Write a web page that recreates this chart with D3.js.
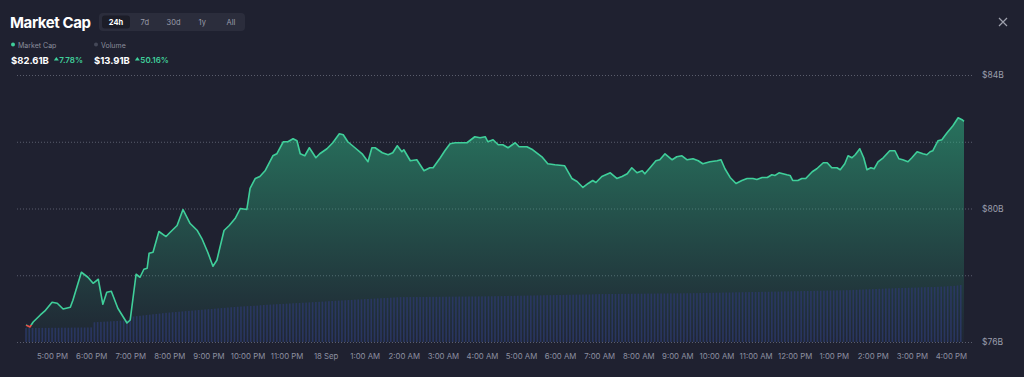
<!DOCTYPE html>
<html lang="en">
<head>
    <title>Market Cap</title>
    <meta charset="utf-8">
    <script src="https://d3js.org/d3.v7.min.js"></script>
    <style>
        body { margin: 0; background: #1f2130; }
        svg text { font-family: Inter, "Noto Sans", sans-serif; }
    </style>
</head>
<body>
<div id="chart"></div>
<script>
    // Market cap, 24h (times 16:20 on 17 Sep -> 16:20 on 18 Sep), in $B
    const times = ["16:20","16:26","16:31","16:42","16:49","17:00","17:08","17:17","17:28","17:32","17:45","17:55",
        "18:03","18:11","18:18","18:24","18:31","18:41","18:55","19:00","19:09","19:15","19:21","19:26","19:29","19:35",
        "19:44","19:55","20:01","20:12","20:21","20:32","20:43","20:50","20:59","21:07","21:13","21:24","21:32","21:41",
        "21:49","21:59","22:04","22:12","22:19","22:27","22:39","22:45","22:55","23:02","23:10","23:16","23:21","23:28",
        "23:35","23:45","23:51","00:02","00:11","00:21","00:27","00:34","00:45","00:56","01:05","01:11","01:16","01:27",
        "01:36","01:43","01:50","01:57","02:00","02:10","02:20","02:31","02:40","02:45","02:56","03:03","03:11","03:19",
        "03:37","03:49","03:57","04:05","04:09","04:17","04:25","04:32","04:40","04:51","04:57","05:09","05:18","05:32",
        "05:41","05:52","06:07","06:18","06:26","06:35","06:43","06:50","06:55","07:04","07:17","07:27","07:35","07:43",
        "07:50","07:58","08:06","08:10","08:18","08:27","08:33","08:41","08:52","08:59","09:07","09:15","09:24","09:32",
        "09:39","09:50","10:01","10:07","10:13","10:21","10:30","10:39","10:47","10:56","11:02","11:10","11:18","11:25",
        "11:30","11:36","11:48","11:53","11:57","12:05","12:11","12:17","12:27","12:34","12:44","12:50","12:57","13:05",
        "13:10","13:17","13:22","13:28","13:33","13:40","13:46","13:51","13:57","14:02","14:08","14:16","14:26","14:34",
        "14:40","14:46","14:54","15:00","15:08","15:17","15:23","15:28","15:32","15:40","15:46","15:54","16:03","16:11",
        "16:17","16:20"];
    const marketCap = [76.51,76.45,76.60,76.81,76.93,77.19,77.16,76.99,77.04,77.25,78.09,77.94,
        77.76,77.88,77.13,77.49,77.52,77.01,76.57,76.66,78.03,77.94,78.18,78.21,78.66,78.69,
        79.31,79.16,79.28,79.49,79.97,79.55,79.34,79.10,78.69,78.27,78.45,79.34,79.49,79.70,
        80.00,79.97,80.60,80.90,80.96,81.13,81.58,81.64,82.00,82.00,82.09,82.03,81.64,81.58,
        81.82,81.52,81.64,81.79,81.97,82.24,82.21,82.00,81.82,81.64,81.40,81.82,81.82,81.67,
        81.61,81.67,81.88,81.70,81.76,81.43,81.46,81.13,81.22,81.22,81.52,81.73,81.94,81.97,
        81.97,82.15,82.12,82.15,82.00,82.06,81.91,81.91,81.82,81.97,81.85,81.85,81.76,81.55,
        81.34,81.31,81.28,80.90,80.81,80.63,80.75,80.84,80.78,80.96,81.07,80.90,80.96,81.04,
        81.22,81.07,81.13,81.04,81.22,81.43,81.46,81.64,81.46,81.55,81.58,81.46,81.49,81.43,
        81.34,81.40,81.43,81.46,81.19,80.93,80.75,80.84,80.90,80.90,80.87,80.93,80.93,81.01,
        80.99,81.07,81.01,80.99,80.84,80.84,80.90,80.90,81.10,81.19,81.37,81.37,81.22,81.22,
        81.16,81.34,81.58,81.52,81.61,81.79,81.52,81.16,81.22,81.19,81.40,81.52,81.73,81.73,
        81.49,81.46,81.40,81.52,81.70,81.64,81.61,81.70,81.73,82.03,82.06,82.27,82.48,82.72,
        82.66,82.61];

    // Volume (24h), one bar every 5 minutes from 16:20, in $B
    const volume = [9.25,9.25,9.26,9.26,9.26,9.27,9.27,9.27,9.28,9.28,9.28,9.29,9.29,9.29,9.30,9.30,9.30,9.31,9.31,9.31,9.32,
        9.88,9.90,9.92,9.94,9.96,9.98,10.00,10.02,10.04,10.06,10.08,10.10,
        10.50,10.54,10.58,10.62,10.66,10.70,10.74,10.78,10.82,10.86,10.90,10.93,10.96,10.99,11.02,11.05,11.08,11.11,11.14,11.17,11.20,
        11.23,11.26,11.29,11.32,11.35,11.38,11.41,11.44,11.47,11.50,11.53,11.56,11.58,11.60,11.62,11.64,11.66,11.68,11.72,
        11.75,11.77,11.79,11.81,11.83,11.85,11.87,11.89,11.91,11.93,11.95,11.97,11.99,12.01,12.03,12.05,12.07,12.09,12.11,12.13,12.16,
        12.18,12.20,12.22,12.24,12.26,12.28,12.30,12.32,12.34,12.36,12.38,12.40,12.42,12.44,12.46,12.48,12.50,12.52,12.54,12.56,12.58,12.60,
        12.60,12.60,12.61,12.61,12.61,12.62,12.62,12.62,12.63,12.63,12.63,12.64,12.64,12.64,12.65,12.65,12.65,12.66,12.66,12.66,12.67,
        12.67,12.67,12.68,12.68,12.68,12.69,12.69,12.70,12.70,12.71,
        12.72,12.73,12.73,12.74,12.75,12.75,12.76,12.77,12.77,12.78,12.79,12.79,12.80,12.81,12.81,12.82,12.83,12.83,12.84,12.85,
        12.85,12.86,12.87,12.87,12.88,12.89,12.89,12.90,12.91,12.93,
        12.93,12.93,12.94,12.94,12.94,12.95,12.95,12.95,12.96,12.96,12.96,12.97,12.97,12.97,12.98,12.98,12.98,12.99,12.99,12.99,
        13.00,13.00,13.00,13.01,13.01,13.01,13.02,13.02,13.03,13.03,13.04,
        13.05,13.06,13.06,13.07,13.08,13.08,13.09,13.10,13.10,13.11,13.12,13.12,13.13,13.14,13.14,13.15,13.16,13.16,13.17,13.18,
        13.18,13.19,13.20,13.20,13.21,13.22,13.22,13.23,13.24,13.24,13.25,
        13.26,13.27,13.27,13.28,13.29,13.29,13.30,13.31,13.31,13.32,13.33,13.33,13.34,13.35,13.36,
        13.38,13.39,13.41,13.42,13.44,13.45,13.47,13.48,13.50,13.51,13.53,13.54,13.55,13.57,13.58,
        13.59,13.60,13.61,13.62,13.63,13.64,13.66,13.67,13.68,13.69,13.70,13.72,13.73,13.75,13.77,13.79,13.82,13.86,13.91];

    const yTicks = [76, 78, 80, 82, 84];
    const yLabelled = [76, 80, 84];
    const tabs = ["24h", "7d", "30d", "1y", "All"];

    const width = 1024, height = 377;
    const green = "#3fcf9a", red = "#e5534b";

    const svg = d3.select("#chart")
        .append("svg")
        .attr("width", width)
        .attr("height", height);

    // parse times, rolling over to the next day after midnight
    const parse = d3.timeParse("%Y-%m-%d %H:%M");
    let day = 17, prev = -1;
    const data = times.map((t, i) => {
        const h = +t.slice(0, 2);
        if (h < prev) day += 1;
        prev = h;
        return {date: parse(`2024-09-${day} ${t}`), value: marketCap[i]};
    });
    const t0 = data[0].date;
    const volData = volume.map((v, i) => ({date: d3.timeMinute.offset(t0, i * 5), value: v}));

    const x = d3.scaleTime()
        .domain(d3.extent(data, d => d.date))
        .range([26, 964]);
    const y = d3.scaleLinear()
        .domain([76, 84])
        .range([342, 75]);
    const yVol = d3.scaleLinear()
        .domain([7.74, 13.91])
        .range([342, 285]);

    const defs = svg.append("defs");
    const areaGrad = defs.append("linearGradient")
        .attr("id", "areaGrad")
        .attr("gradientUnits", "userSpaceOnUse")
        .attr("x1", 0).attr("y1", 110).attr("x2", 0).attr("y2", 342);
    areaGrad.append("stop").attr("offset", 0).attr("stop-color", "#2fb985").attr("stop-opacity", 0.55);
    areaGrad.append("stop").attr("offset", 1).attr("stop-color", "#2fb985").attr("stop-opacity", 0.03);

    // line is green above the opening value, red below it
    const base = y(marketCap[0]);
    const lineGrad = defs.append("linearGradient")
        .attr("id", "lineGrad")
        .attr("gradientUnits", "userSpaceOnUse")
        .attr("x1", 0).attr("y1", 0).attr("x2", 0).attr("y2", height);
    lineGrad.append("stop").attr("offset", base / height).attr("stop-color", green);
    lineGrad.append("stop").attr("offset", base / height).attr("stop-color", red);

    // grid
    svg.append("g")
        .selectAll("line")
        .data(yTicks)
        .join("line")
        .attr("x1", 17).attr("x2", 974)
        .attr("y1", d => y(d) + 0.5).attr("y2", d => y(d) + 0.5)
        .attr("stroke", "#5a5d6c")
        .attr("stroke-dasharray", "1,2");

    svg.append("g")
        .selectAll("text")
        .data(yLabelled)
        .join("text")
        .attr("x", 982)
        .attr("y", d => y(d) + 3)
        .attr("font-size", 8.5)
        .attr("fill", "#9a9dab")
        .text(d => `$${d}B`);

    // area
    svg.append("path")
        .datum(data)
        .attr("fill", "url(#areaGrad)")
        .attr("d", d3.area().x(d => x(d.date)).y0(342).y1(d => y(d.value)));

    // volume bars
    const step = x(d3.timeMinute.offset(t0, 5)) - x(t0);
    svg.append("g")
        .selectAll("rect")
        .data(volData)
        .join("rect")
        .attr("x", d => x(d.date) - step * 0.25)
        .attr("y", d => yVol(d.value))
        .attr("width", step * 0.5)
        .attr("height", d => 342 - yVol(d.value))
        .attr("fill", "#2c3868")
        .attr("fill-opacity", 0.85);

    // line
    svg.append("path")
        .datum(data)
        .attr("fill", "none")
        .attr("stroke", "url(#lineGrad)")
        .attr("stroke-width", 1.6)
        .attr("stroke-linejoin", "round")
        .attr("d", d3.line().x(d => x(d.date)).y(d => y(d.value)));

    // x axis
    const fmt = d => d.getHours() === 0 ? d3.timeFormat("%-d %b")(d) : d3.timeFormat("%-I:%M %p")(d);
    const xAxis = svg.append("g")
        .attr("transform", "translate(0,348)")
        .call(d3.axisBottom(x).ticks(d3.timeHour.every(1)).tickFormat(fmt).tickSize(0));
    xAxis.select(".domain").remove();
    xAxis.selectAll("text")
        .attr("font-size", 7.8)
        .attr("fill", "#8d90a0")
        .attr("dy", "1em");

    // header
    svg.append("text")
        .attr("x", 10).attr("y", 28)
        .attr("font-size", 15).attr("font-weight", 700)
        .attr("letter-spacing", -0.4)
        .attr("fill", "#ffffff")
        .text("Market Cap");

    svg.append("rect")
        .attr("x", 99).attr("y", 13).attr("width", 146).attr("height", 18).attr("rx", 4)
        .attr("fill", "#2b2d3c");
    svg.append("rect")
        .attr("x", 102).attr("y", 15.5).attr("width", 28).attr("height", 13).attr("rx", 3)
        .attr("fill", "#1c1d28");
    const tabX = d3.scalePoint().domain(tabs).range([116, 231]);
    svg.append("g")
        .selectAll("text")
        .data(tabs)
        .join("text")
        .attr("x", d => tabX(d))
        .attr("y", 25)
        .attr("text-anchor", "middle")
        .attr("font-size", 7.5)
        .attr("font-weight", d => d === "24h" ? 700 : 400)
        .attr("fill", d => d === "24h" ? "#ffffff" : "#9a9cab")
        .text(d => d);

    // legend
    const legend = [
        {name: "Market Cap", dot: green, x: 13, value: "$82.61B", change: "7.78%"},
        {name: "Volume", dot: "#454858", x: 96, value: "$13.91B", change: "50.16%"}
    ];
    const lg = svg.append("g").selectAll("g").data(legend).join("g");
    lg.append("circle").attr("cx", d => d.x).attr("cy", 44.5).attr("r", 2).attr("fill", d => d.dot);
    lg.append("text").attr("x", d => d.x + 5).attr("y", 47.5)
        .attr("font-size", 7).attr("fill", "#8b8e9c").text(d => d.name);
    lg.append("text").attr("x", d => d.x - 2).attr("y", 63.5)
        .attr("font-size", 9.5).attr("font-weight", 700).attr("fill", "#ffffff")
        .attr("class", "val").text(d => d.value);
    lg.each(function (d) {
        const g = d3.select(this);
        const w = g.select(".val").node().getComputedTextLength();
        const tx = d.x - 2 + w + 5;
        g.append("path")
            .attr("d", `M${tx},${60.5} l2.5,-3.5 l2.5,3.5 z`)
            .attr("fill", green);
        g.append("text").attr("x", tx + 5.5).attr("y", 63)
            .attr("font-size", 8).attr("font-weight", 600).attr("fill", green).text(d.change);
    });

    // close button
    svg.append("path")
        .attr("d", "M999,18 l8,8 M1007,18 l-8,8")
        .attr("stroke", "#9ea1ad")
        .attr("stroke-width", 1.2);
</script>
</body>
</html>
